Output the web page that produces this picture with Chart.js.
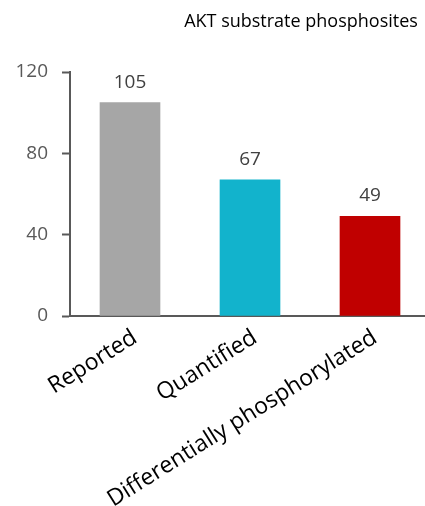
<!DOCTYPE html>
<html>
<head>
<meta charset="utf-8">
<script src="https://cdn.jsdelivr.net/npm/chart.js@4"></script>
<style>
  html, body { margin: 0; padding: 0; background: #fff; }
  body { width: 425px; height: 506px; overflow: hidden; }
  #wrap { width: 430px; height: 506px; }
</style>
</head>
<body>
<div id="wrap"><canvas id="myChart"></canvas></div>
<script>
// Categories and counts
var categories = ['Reported', 'Quantified', 'Differentially phosphorylated'];
var sites = [105, 67, 49];
var barColors = ['#a6a6a6', '#12b3cc', '#c00000'];
var yTicks = [0, 40, 80, 120];

Chart.defaults.font.family = '"Open Sans", sans-serif';

// value labels above each bar
var valueLabels = {
  id: 'valueLabels',
  afterDatasetsDraw: function(chart) {
    var ctx = chart.ctx;
    var meta = chart.getDatasetMeta(0);
    ctx.save();
    ctx.font = '19px "Open Sans"';
    ctx.fillStyle = '#404040';
    ctx.textAlign = 'center';
    ctx.textBaseline = 'alphabetic';
    meta.data.forEach(function(bar, i) {
      ctx.fillText(sites[i], bar.x, bar.y - 15);
    });
    ctx.restore();
  }
};

// title sits right of centre
var chartTitle = {
  id: 'chartTitle',
  afterDraw: function(chart) {
    var ctx = chart.ctx;
    ctx.save();
    ctx.font = '18px "Open Sans"';
    ctx.fillStyle = '#000';
    ctx.textAlign = 'center';
    ctx.textBaseline = 'alphabetic';
    ctx.fillText('AKT substrate phosphosites', 301, 27);
    ctx.restore();
  }
};

var ctx = document.getElementById('myChart');
var myChart = new Chart(ctx, {
  type: 'bar',
  data: {
    labels: categories,
    datasets: [{
      data: sites,
      backgroundColor: barColors,
      barThickness: 60
    }]
  },
  options: {
    responsive: true,
    maintainAspectRatio: false,
    animation: false,
    layout: { padding: { top: 72, right: 0, left: 0, bottom: 0 } },
    plugins: {
      legend: { display: false },
      tooltip: { enabled: false }
    },
    scales: {
      x: {
        afterFit: function(scale) { scale.height = 190; },
        grid: { display: false },
        border: { color: '#595959', width: 2 },
        ticks: {
          color: '#000',
          font: { size: 23 },
          minRotation: 32,
          maxRotation: 32,
          padding: 0,
          labelOffset: 5
        }
      },
      y: {
        min: 0,
        max: 120,
        afterBuildTicks: function(scale) {
          scale.ticks = yTicks.map(function(v) { return { value: v }; });
        },
        afterFit: function(scale) { scale.width = 70; },
        grid: { drawOnChartArea: false, tickLength: 8, color: '#595959', tickWidth: 2 },
        border: { color: '#595959', width: 2 },
        ticks: { color: '#595959', font: { size: 19 }, padding: 14 }
      }
    }
  },
  plugins: [valueLabels, chartTitle]
});
</script>
</body>
</html>
